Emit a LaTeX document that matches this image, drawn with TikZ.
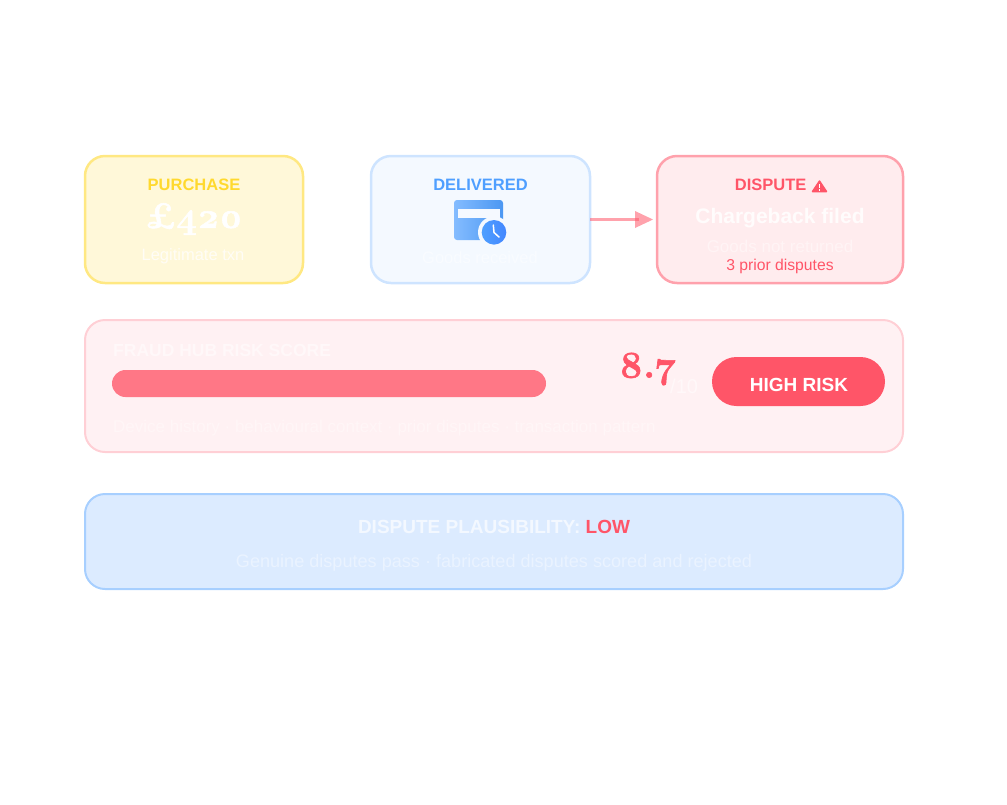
\documentclass[tikz,border=0pt]{standalone}
\usepackage{fontspec}
\setmainfont{Liberation Sans}
\newfontfamily\scorefont{Latin Modern Roman}[Numbers=OldStyle,BoldFeatures={FakeBold=1.6}]
\usepackage{tikz}
\usetikzlibrary{arrows.meta}
\definecolor{sun}{HTML}{FFD92E}
\definecolor{sky}{HTML}{4F9FFF}
\definecolor{rose}{HTML}{FF5568}
\definecolor{pale}{HTML}{DCEBFF}
\colorlet{sunfill}{sun!18}
\colorlet{skyfill}{sky!6}
\colorlet{rosefill}{rose!11}
\colorlet{riskfill}{rose!8}
\tikzset{card/.style={rectangle,rounded corners=20pt,line width=2.5pt,outer sep=0pt,inner sep=0pt}}
\tikzset{panel/.style={card,line width=2pt,minimum width=818pt}}
\tikzset{head/.style={font=\bfseries\fontsize{16.5}{20}\selectfont}}
\tikzset{small/.style={font=\fontsize{16.5}{20}\selectfont}}
\tikzset{arrowline/.style={line width=3pt,draw=rose,draw opacity=.55,fill opacity=.55}}

\begin{document}
\begin{tikzpicture}[x=1pt,y=-1pt]
\useasboundingbox (0,0) rectangle (1007,804);

% top row
\node[card,draw=sun!60,fill=sunfill,minimum width=218pt,minimum height=127pt] (purchase) at (194,219.5) {};
\node[card,draw=sky!28,fill=skyfill,minimum width=219pt,minimum height=127pt] (delivered) at (480.5,219.5) {};
\node[card,draw=rose!55,fill=rosefill,minimum width=246pt,minimum height=127pt] (dispute) at (780,219.5) {};
\draw[arrowline,shorten >=18pt] (delivered) -- (dispute);
\draw[arrowline,line width=.01pt,draw opacity=0,shorten <=45pt,shorten >=4pt,-{Triangle[length=18pt,width=17pt,line width=0pt,fill=rose]}] (delivered) -- (dispute);

\node[head,text=sun] (purchaselabel) at (194,185) {PURCHASE};
\node[font=\scorefont\bfseries\fontsize{36}{40}\selectfont,text=white] (price) at (194,219) {£420};
\node[small,text=white!75!sunfill] (txn) at (193,256) {Legitimate txn};

\node[head,text=sky] (deliveredlabel) at (480.5,185) {DELIVERED};
\node[small,text=white!45!skyfill] (received) at (480,258) {Goods received};

% calendar and clock
\shade[left color=sky!70!white,right color=sky!95!black,rounded corners=3pt] (454,200) rectangle (503,240);
\fill[skyfill] (458,209) rectangle (500,217.5);
\fill[skyfill] (494,232.3) circle (16);
\shade[left color=sky,right color=sky!85!blue] (494,232.3) circle (12.3);
\draw[white,line width=1.5pt,line cap=round,line join=round] (493.3,225) -- (494,232.5) -- (499,237);

\node[head,text=rose,anchor=east] (disputelabel) at (810,185) {DISPUTE};
\fill[rose,draw=rose,line width=1.5pt,line join=round] (819.5,181) -- (826.5,191.5) -- (812.5,191.5) -- cycle;
\fill[white] (819,183.5) rectangle (820,188);
\fill[white] (819,189) rectangle (820,190.5);
\node[font=\bfseries\fontsize{21}{25}\selectfont,text=white!85!rosefill] (filed) at (780,218) {Chargeback filed};
\node[font=\fontsize{17}{20}\selectfont,text=white!40!rosefill] (returned) at (780,246) {Goods not returned};
\node[font=\fontsize{15.7}{19}\selectfont,text=rose] (prior) at (780,266) {3 prior disputes};

% risk panel
\node[panel,draw=rose!28,fill=riskfill,minimum height=132pt] (risk) at (494,386) {};
\node[font=\bfseries\fontsize{17.5}{21}\selectfont,anchor=west,inner sep=0pt,text=white!50!riskfill] (risklabel) at (113,350) {FRAUD HUB RISK SCORE};
\node[rectangle,rounded corners=13.5pt,fill=rose!80,minimum width=434pt,minimum height=27pt,inner sep=0pt] (bar) at (329,383.5) {};
\node[font=\scorefont\bfseries\fontsize{38}{42}\selectfont,text=rose,anchor=west,inner sep=0pt] (score) at (619,369) {8.7};
\node[font=\fontsize{20}{24}\selectfont,text=white!50!riskfill,anchor=west,inner sep=0pt] (outof) at (670,386) {/10};
\node[rectangle,rounded corners=24.5pt,fill=rose,minimum width=173pt,minimum height=49pt,inner sep=0pt] (level) at (798.5,381.5) {};
\node[font=\bfseries\fontsize{19}{22}\selectfont,text=white] (levellabel) at (799,385) {HIGH RISK};
\node[font=\fontsize{17}{20}\selectfont,anchor=west,inner sep=0pt,text=white!30!riskfill] (sources) at (113,428) {Device history · behavioural context · prior disputes · transaction pattern};

% plausibility panel
\node[panel,draw=sky!50,fill=pale,minimum height=95pt] (plausible) at (494,541.5) {};
\node[font=\bfseries\fontsize{19}{22}\selectfont,text=white!65!pale] (verdict) at (494,527) {DISPUTE PLAUSIBILITY: \textcolor{rose}{LOW}};
\node[font=\fontsize{18.1}{22}\selectfont,text=white!40!pale] (outcome) at (494,563) {Genuine disputes pass · fabricated disputes scored and rejected};
\end{tikzpicture}
\end{document}
